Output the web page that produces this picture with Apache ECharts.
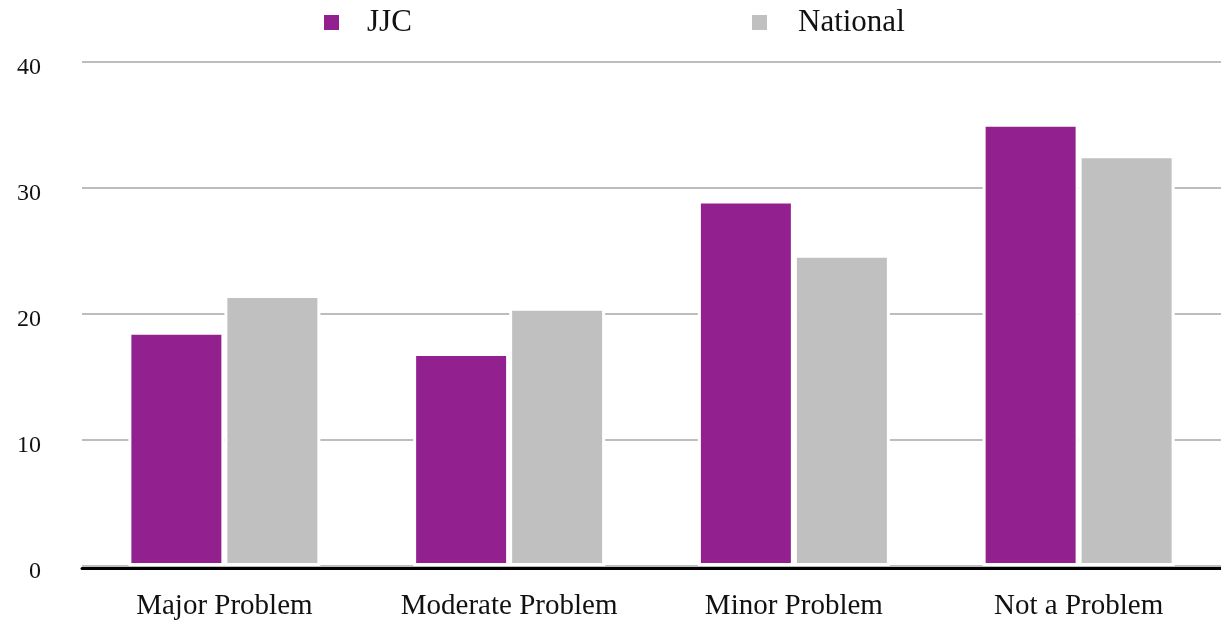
<!DOCTYPE html>
<html><head><meta charset="utf-8">
<script src="https://cdn.jsdelivr.net/npm/echarts@6/dist/echarts.min.js"></script>
<style>html,body{margin:0;padding:0;background:#fff}#c{width:1221px;height:623px}</style>
</head><body><div id="c"></div>
<script>
const categories = ['Major Problem', 'Moderate Problem', 'Minor Problem', 'Not a Problem'];
const jjc = [18.6, 16.9, 29.0, 35.1];
const national = [21.5, 20.5, 24.7, 32.6];
const yTicks = { min: 0, max: 40, interval: 10 };

const FONT = '"Liberation Serif", "DejaVu Serif", serif';
const chart = echarts.init(document.getElementById('c'), null, { renderer: 'canvas' });
chart.setOption({
  animation: false,
  backgroundColor: '#fff',
  textStyle: { fontFamily: FONT },
  legend: [
    { data: ['JJC'], left: 322, top: 7, padding: 0, icon: 'rect', itemWidth: 17, itemHeight: 17,
      textStyle: { fontFamily: FONT, fontSize: 31, color: '#111', padding: [0, 0, 0, 22] } },
    { data: ['National'], left: 750, top: 7, padding: 0, icon: 'rect', itemWidth: 17, itemHeight: 17,
      textStyle: { fontFamily: FONT, fontSize: 31, color: '#111', padding: [0, 0, 0, 25] } }
  ],
  grid: { left: 82, right: 0, top: 62, bottom: 57, containLabel: false },
  xAxis: {
    type: 'category', data: categories, z: 10, offset: 2,
    axisLine: { onZero: false, lineStyle: { color: '#000', width: 3 } },
    axisTick: { show: false },
    axisLabel: { fontFamily: FONT, fontSize: 29, color: '#111', margin: 24, interval: 0 }
  },
  yAxis: {
    type: 'value', min: yTicks.min, max: yTicks.max, interval: yTicks.interval,
    axisLine: { show: false }, axisTick: { show: false },
    splitLine: { lineStyle: { color: '#bdbdbd', width: 2 } },
    axisLabel: { fontFamily: FONT, fontSize: 24, color: '#111', margin: 41, align: 'right',
      verticalAlign: 'top', lineHeight: 12 }
  },
  series: [
    { name: 'JJC', type: 'bar', data: jjc, barWidth: 96, barGap: '0%',
      itemStyle: { color: '#93208f', borderColor: '#fff', borderWidth: 3 } },
    { name: 'National', type: 'bar', data: national, barWidth: 96,
      itemStyle: { color: '#c0c0c0', borderColor: '#fff', borderWidth: 3 } }
  ]
});
</script></body></html>
